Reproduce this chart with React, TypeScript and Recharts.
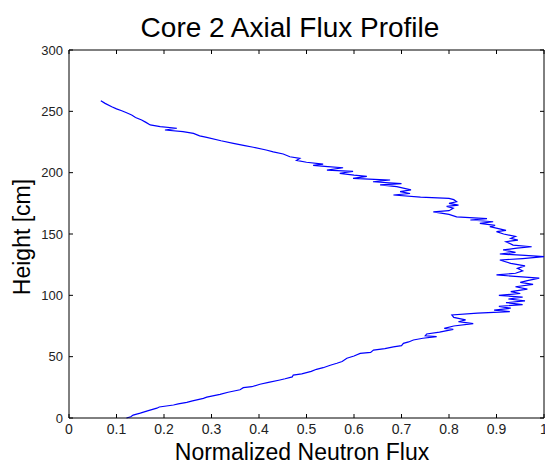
import { LineChart, Line, XAxis, YAxis, ReferenceLine } from 'recharts';

// height along the core [cm] from bottom to top
const heights = [
  0, 1, 2.4, 4, 6, 8, 9, 10.6, 11.5, 12.8, 14, 16, 17, 19.3, 21, 23, 24.7, 25.5, 27.5, 29,
  31, 32, 33.5, 35, 36, 38, 39.7, 41, 43, 44.6, 46, 48.7, 50.5, 52.7, 53.5, 55.4, 56.5, 58, 59, 60.9,
  62, 63.6, 65, 66.3, 67, 68.5, 70, 72.3, 73, 75, 77, 78.5, 80, 82, 84, 85.5, 86.7, 88, 89.5, 91,
  92.5, 94, 95.5, 97, 98.5, 100, 101.5, 103, 105, 107, 109, 110.5, 112, 114, 116.6, 118, 120, 122, 124, 126,
  128.8, 130, 131.5, 132.5, 133.7, 135, 137, 138.5, 139.6, 141, 143.7, 145, 146.5, 148, 150, 151.9, 153, 156, 157, 158.7,
  160, 161.4, 162.5, 164, 166, 168, 169, 171, 172.5, 173.6, 175, 176.3, 178, 179, 180, 181.8, 183, 184.5, 186, 188.6,
  190, 191, 192.6, 194, 195.4, 197, 198, 199.5, 201, 202, 204, 205, 206, 207, 208.5, 210, 211.7, 213, 215.2, 217,
  218.5, 220.7, 222, 223.9, 226, 228.8, 230, 232, 233.5, 234.8, 236.2, 237.5, 238.9, 241, 243, 245, 247, 249, 250.5, 252,
  253.8, 256.5, 258.7,
];

// normalized neutron flux at each height
const fluxes = [
  0.121, 0.13, 0.135, 0.15, 0.167, 0.185, 0.19, 0.22, 0.23, 0.248, 0.26, 0.283, 0.29, 0.318, 0.335, 0.36, 0.367, 0.385, 0.402, 0.42,
  0.444, 0.455, 0.47, 0.472, 0.49, 0.51, 0.521, 0.535, 0.55, 0.564, 0.575, 0.585, 0.6, 0.613, 0.635, 0.641, 0.665, 0.683, 0.7, 0.704,
  0.715, 0.725, 0.745, 0.774, 0.75, 0.753, 0.78, 0.809, 0.79, 0.81, 0.851, 0.82, 0.835, 0.81, 0.806, 0.86, 0.928, 0.895, 0.93, 0.905,
  0.955, 0.92, 0.96, 0.925, 0.955, 0.905, 0.95, 0.93, 0.965, 0.94, 0.977, 0.95, 0.965, 0.99, 0.9, 0.94, 0.955, 0.944, 0.96, 0.93,
  0.907, 0.955, 1.0, 0.96, 0.907, 0.94, 0.914, 0.943, 0.974, 0.935, 0.92, 0.945, 0.93, 0.94, 0.915, 0.9, 0.92, 0.886, 0.897, 0.865,
  0.893, 0.845, 0.88, 0.816, 0.8, 0.767, 0.8, 0.809, 0.795, 0.82, 0.8, 0.816, 0.81, 0.8, 0.74, 0.683, 0.718, 0.697, 0.72, 0.69,
  0.655, 0.7, 0.64, 0.676, 0.598, 0.627, 0.6, 0.57, 0.598, 0.543, 0.577, 0.545, 0.514, 0.535, 0.5, 0.479, 0.486, 0.465, 0.451, 0.43,
  0.415, 0.388, 0.37, 0.346, 0.32, 0.29, 0.275, 0.262, 0.24, 0.202, 0.227, 0.192, 0.171, 0.162, 0.153, 0.14, 0.132, 0.12, 0.111, 0.1,
  0.09, 0.076, 0.067,
];

const xTicks = [0, 0.1, 0.2, 0.3, 0.4, 0.5, 0.6, 0.7, 0.8, 0.9, 1];
const yTicks = [0, 50, 100, 150, 200, 250, 300];

const data = heights.map((h, i) => ({ height: h, flux: fluxes[i] }));

const FONT = '"Liberation Sans", Arial, sans-serif';
const TOP = 50;
const BOTTOM = 418;
const LEFT = 69;
const RIGHT = 544;
const TICK = 4;

function XTick({ x, payload }: any) {
  return (
    <g>
      <line x1={x} x2={x} y1={BOTTOM} y2={BOTTOM - TICK} stroke="#000" />
      <line x1={x} x2={x} y1={TOP} y2={TOP + TICK} stroke="#000" />
      <text x={x} y={BOTTOM + 16} textAnchor="middle" fontSize={14} fontFamily={FONT} fill="#222">
        {String(payload.value)}
      </text>
    </g>
  );
}

function YTick({ y, payload }: any) {
  return (
    <g>
      <line x1={LEFT} x2={LEFT + TICK} y1={y} y2={y} stroke="#000" />
      <line x1={RIGHT} x2={RIGHT - TICK} y1={y} y2={y} stroke="#000" />
      <text x={LEFT - 6} y={y + 4.5} textAnchor="end" fontSize={13} fontFamily={FONT} fill="#222">
        {payload.value}
      </text>
    </g>
  );
}

export default function App() {
  return (
    <div style={{ position: 'absolute', left: 0, top: 0, width: 545, height: 466, background: '#fff' }}>
      <LineChart
        width={545}
        height={466}
        data={data}
        margin={{ top: TOP, right: 545 - RIGHT, bottom: 18, left: 19 }}
      >
        <XAxis
          type="number"
          dataKey="flux"
          domain={[0, 1]}
          ticks={xTicks}
          tick={<XTick />}
          tickLine={false}
          axisLine={{ stroke: '#000' }}
          height={30}
          interval={0}
        />
        <YAxis
          type="number"
          dataKey="height"
          domain={[0, 300]}
          ticks={yTicks}
          tick={<YTick />}
          tickLine={false}
          axisLine={{ stroke: '#000' }}
          width={50}
          interval={0}
        />
        <ReferenceLine y={300} stroke="#000" ifOverflow="extendDomain" />
        <ReferenceLine x={1} stroke="#000" ifOverflow="extendDomain" />
        <Line
          type="linear"
          dataKey="height"
          stroke="#0000ff"
          strokeWidth={1.2}
          dot={false}
          isAnimationActive={false}
        />
        <text x={290} y={37} textAnchor="middle" fontSize={28} fontFamily={FONT} fill="#000">
          Core 2 Axial Flux Profile
        </text>
        <text x={302} y={460} textAnchor="middle" fontSize={23} fontFamily={FONT} fill="#000">
          Normalized Neutron Flux
        </text>
        <text
          x={30}
          y={237}
          textAnchor="middle"
          fontSize={23}
          fontFamily={FONT}
          fill="#000"
          transform="rotate(-90 30 237)"
        >
          Height [cm]
        </text>
      </LineChart>
    </div>
  );
}
